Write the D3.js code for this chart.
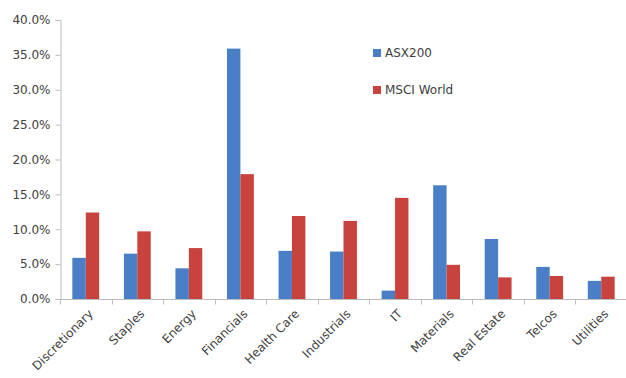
<!DOCTYPE html>
<html>
<head>
<meta charset="utf-8">
<script src="https://cdn.jsdelivr.net/npm/d3@7"></script>
<style>
  html, body { margin: 0; padding: 0; background: #fff; }
  svg { display: block; }
  text { font-family: "DejaVu Sans", Verdana, sans-serif; fill: #404040; }
</style>
</head>
<body>
<svg id="chart" width="626" height="378"></svg>
<script>
// Sector weights (%)
const sectors = ["Discretionary", "Staples", "Energy", "Financials", "Health Care",
                 "Industrials", "IT", "Materials", "Real Estate", "Telcos", "Utilities"];
const seriesNames = ["ASX200", "MSCI World"];
const asx200 = [5.9, 6.5, 4.4, 35.9, 6.9, 6.8, 1.2, 16.3, 8.6, 4.6, 2.6];
const msciWorld = [12.4, 9.7, 7.3, 17.9, 11.9, 11.2, 14.5, 4.9, 3.1, 3.3, 3.2];
const yTicks = [0, 5, 10, 15, 20, 25, 30, 35, 40];
const colors = ["#4a7ec6", "#c8423e"];

const svg = d3.select("#chart");
const margin = { left: 60, right: -1, top: 20, bottom: 79 };
const W = 626, H = 378;
const fontSize = "12px";

const x0 = d3.scaleBand().domain(sectors)
  .range([margin.left, W - margin.right]).paddingInner(0).paddingOuter(0);
const x1 = d3.scaleBand().domain(seriesNames)
  .range([0, x0.bandwidth()]).paddingOuter(0.92).paddingInner(0);
const y = d3.scaleLinear().domain([0, 40]).range([H - margin.bottom, margin.top]);

const rows = sectors.map((s, i) => ({ sector: s, values: [asx200[i], msciWorld[i]] }));

// Bars
const groups = svg.append("g").selectAll("g").data(rows).join("g")
  .attr("transform", d => `translate(${x0(d.sector)},0)`);
groups.selectAll("rect")
  .data(d => d.values.map((v, k) => ({ name: seriesNames[k], v, k })))
  .join("rect")
  .attr("x", d => x1(d.name))
  .attr("width", x1.bandwidth())
  .attr("y", d => y(d.v))
  .attr("height", d => y(0) - y(d.v))
  .attr("fill", d => colors[d.k]);

// Y axis
const yAxis = svg.append("g")
  .attr("transform", `translate(${margin.left + 0.5},0)`)
  .call(d3.axisLeft(y).tickValues(yTicks).tickSize(5).tickPadding(5)
    .tickFormat(d => d.toFixed(1) + "%"));
yAxis.select(".domain").attr("stroke", "#bdbdbd");
yAxis.selectAll(".tick line").attr("stroke", "#bdbdbd");
yAxis.selectAll(".tick text")
  .style("font-family", "'DejaVu Sans', sans-serif")
  .style("font-size", fontSize).attr("fill", "#404040");

// X axis: ticks sit between categories
const xAxisG = svg.append("g").attr("transform", `translate(0,${y(0) + 0.5})`);
xAxisG.append("line")
  .attr("x1", margin.left).attr("x2", W)
  .attr("stroke", "#bdbdbd");
const boundaries = sectors.map(s => x0(s)).concat([x0(sectors[sectors.length - 1]) + x0.bandwidth()]);
xAxisG.selectAll("line.tk").data(boundaries).join("line")
  .attr("class", "tk")
  .attr("x1", d => Math.round(d) + 0.5).attr("x2", d => Math.round(d) + 0.5)
  .attr("y1", 0).attr("y2", 5)
  .attr("stroke", "#bdbdbd");
xAxisG.selectAll("text").data(sectors).join("text")
  .attr("transform", d => `translate(${x0(d) + x0.bandwidth() / 2 + 5},${12}) rotate(-45)`)
  .attr("text-anchor", "end")
  .attr("dy", "0.35em")
  .style("font-size", fontSize)
  .text(d => d);

// Legend
const legend = svg.append("g").selectAll("g").data(seriesNames).join("g")
  .attr("transform", (d, i) => `translate(373,${53 + i * 37})`);
legend.append("rect")
  .attr("x", 0).attr("y", -4).attr("width", 8).attr("height", 8)
  .attr("fill", (d, i) => colors[i]);
legend.append("text")
  .attr("x", 12).attr("dy", "0.35em")
  .style("font-size", fontSize)
  .text(d => d);
</script>
</body>
</html>
